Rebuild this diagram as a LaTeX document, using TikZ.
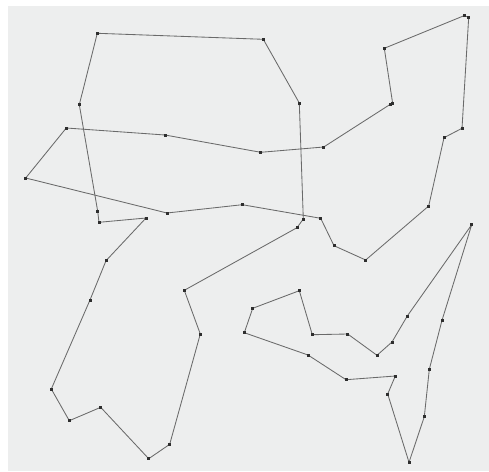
\documentclass[tikz,border=0pt]{standalone}
\usepackage{tikz}
\usetikzlibrary{positioning}
\usepackage{xcolor}
\definecolor{paper}{HTML}{EDEEEE}
\definecolor{route}{HTML}{6A6A6A}
\definecolor{stop}{HTML}{2E2E2E}

\begin{document}
\begin{tikzpicture}[x=1pt,y=-1pt,
	dot/.style={rectangle,fill=stop,inner sep=0pt,minimum size=3pt},
	tour/.style={draw=route,line width=0.85pt,line join=round}]
	
	% Canvas
	\useasboundingbox (0,0) rectangle (489,471);
	\fill[paper] (8,6) rectangle (489,471);
	
	% Left tour
	\foreach \n/\x/\y in {p1/97.3/33.3, p2/263.3/39.3, p3/299.3/103, p4/303.3/219,
		p5/297/227.7, p6/184.3/290.3, p7/200.3/334, p8/169.7/444.3, p9/148.7/458.7,
		p10/100.7/407.3, p11/69.3/420.7, p12/51.3/389, p13/90/300, p14/106/260.7,
		p15/146/218, p16/99/222.3, p17/97.7/211.3, p18/79.3/104.7}
	{
		\coordinate (\n) at (\x,\y);
	}
	
	\draw[tour] (p1) -- (p2) -- (p3) -- (p4) -- (p5) -- (p6) -- (p7) -- (p8) -- (p9)
		-- (p10) -- (p11) -- (p12) -- (p13) -- (p14) -- (p15) -- (p16) -- (p17) -- (p18) -- cycle;
	
	% Middle tour
	\foreach \n/\x/\y in {q1/66.3/128, q2/165/135, q3/260.7/152.3, q4/323.7/147,
		q5/390.3/104.3, q6/392.7/103.7, q7/384.3/48.3, q8/464/15.7, q9/468.7/17.3,
		q10/462/128.3, q11/444/137.7, q12/428.7/206, q13/365.7/260, q14/334/245.7,
		q15/320.7/218.3, q16/242.3/204.7, q17/167/213, q18/25.7/178}
	{
		\coordinate (\n) at (\x,\y);
	}
	
	\draw[tour] (q1) -- (q2) -- (q3) -- (q4) -- (q5) -- (q6) -- (q7) -- (q8) -- (q9)
		-- (q10) -- (q11) -- (q12) -- (q13) -- (q14) -- (q15) -- (q16) -- (q17) -- (q18) -- cycle;
	
	% Right tour
	\foreach \n/\x/\y in {r1/244.3/332.7, r2/252.7/308.3, r3/299.3/290.7, r4/312.3/334.7,
		r5/347.7/334, r6/377/355.3, r7/392/342, r8/407.3/316, r9/471.7/224.7,
		r10/442/320.3, r11/429.3/369.3, r12/424.3/416.7, r13/409/462.3,
		r14/387.7/394, r15/395.3/376, r16/346/379.7, r17/308/355}
	{
		\coordinate (\n) at (\x,\y);
	}
	
	\draw[tour] (r1) -- (r2) -- (r3) -- (r4) -- (r5) -- (r6) -- (r7) -- (r8) -- (r9)
		-- (r10) -- (r11) -- (r12) -- (r13) -- (r14) -- (r15) -- (r16) -- (r17) -- cycle;
	
	% Stops on top of the routes
	\foreach \n in {p1,p2,p3,p4,p5,p6,p7,p8,p9,p10,p11,p12,p13,p14,p15,p16,p17,p18,
		q1,q2,q3,q4,q5,q6,q7,q8,q9,q10,q11,q12,q13,q14,q15,q16,q17,q18,
		r1,r2,r3,r4,r5,r6,r7,r8,r9,r10,r11,r12,r13,r14,r15,r16,r17}
	{
		\node[dot] (s\n) at (\n) {};
	}
	
\end{tikzpicture}
\end{document}
